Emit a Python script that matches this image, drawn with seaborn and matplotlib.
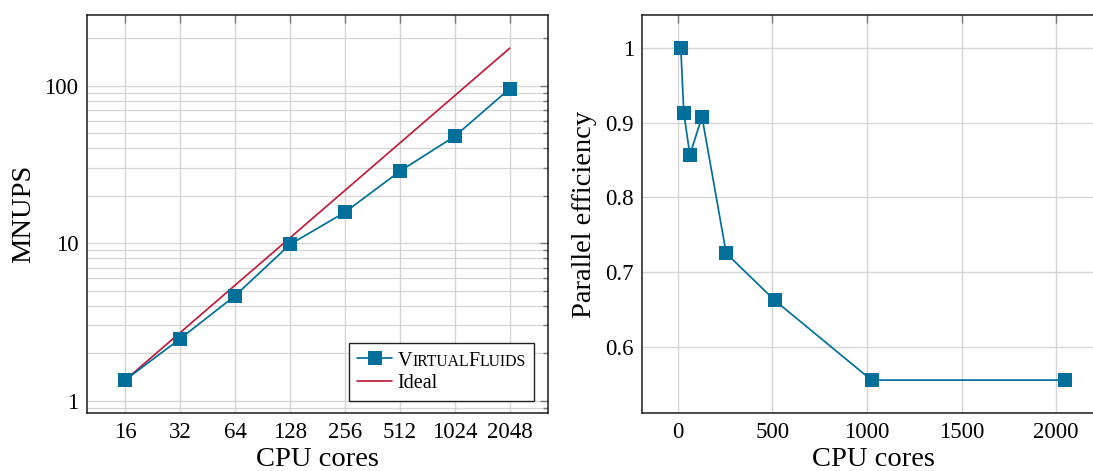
import numpy as np
import pandas as pd
import matplotlib
matplotlib.use("Agg")
import matplotlib.pyplot as plt
import seaborn as sns
from matplotlib.offsetbox import TextArea, HPacker
from matplotlib.ticker import LogLocator, NullFormatter, NullLocator

# Strong scaling measurements
cores = [16, 32, 64, 128, 256, 512, 1024, 2048]
mnups = [1.35, 2.47, 4.63, 9.81, 15.7, 28.6, 47.7, 95.7]
ideal = [1.35, 2.7, 5.4, 10.8, 21.6, 43.2, 86.4, 172.8]
efficiency = [1.0, 0.913, 0.857, 0.908, 0.725, 0.662, 0.555, 0.555]

# Axis ticks and labels
core_ticks = [16, 32, 64, 128, 256, 512, 1024, 2048]
core_tick_labels = ["16", "32", "64", "128", "256", "512", "1024", "2048"]
mnups_ticks = [1, 10, 100]
mnups_tick_labels = ["1", "10", "100"]
linear_core_ticks = [0, 500, 1000, 1500, 2000]
linear_core_tick_labels = ["0", "500", "1000", "1500", "2000"]
eff_ticks = [0.6, 0.7, 0.8, 0.9, 1.0]
eff_tick_labels = ["0.6", "0.7", "0.8", "0.9", "1"]

BLUE = "#00709B"
RED = "#BE1E3C"
GRID = "#d5d5d5"
TICK = "#7a7a7a"

sns.set_theme(style="white")
plt.rcParams["font.family"] = ["Liberation Serif", "DejaVu Serif"]
plt.rcParams["text.color"] = "black"
plt.rcParams["axes.labelcolor"] = "black"
plt.rcParams["xtick.color"] = "black"
plt.rcParams["ytick.color"] = "black"

df = pd.DataFrame({"cores": cores, "mnups": mnups, "ideal": ideal,
                   "efficiency": efficiency})

fig = plt.figure(figsize=(10.93, 4.71), dpi=100)
ax1 = fig.add_axes([0.0793, 0.1225, 0.4223, 0.8457])
ax2 = fig.add_axes([0.5877, 0.1225, 0.4221, 0.8457])

LABEL_FS = 20.5
TICK_FS = 16.5
LEGEND_FS = 14.5


def enlarge(lo, hi, frac=0.1):
    d = (hi - lo) * frac
    return lo - d, hi + d


def style_axes(ax):
    ax.set_axisbelow(True)
    for sp in ax.spines.values():
        sp.set_color("#1a1a1a")
        sp.set_linewidth(1.1)
        sp.set_visible(True)
    ax.tick_params(which="both", direction="in", top=True, right=True,
                   color=TICK, width=1.0, labelsize=TICK_FS, pad=6)
    ax.tick_params(which="major", length=5.5)
    ax.tick_params(which="minor", length=3.5)


# ---- left panel: throughput, log-log ----
sns.lineplot(data=df, x="cores", y="ideal", ax=ax1, color=RED, lw=1.25,
             label="Ideal", zorder=3)
sns.lineplot(data=df, x="cores", y="mnups", ax=ax1, color=BLUE, lw=1.25,
             marker="s", markersize=9.6, markeredgewidth=0,
             label="VirtualFluids", zorder=4)
ax1.set_xscale("log", base=2)
ax1.set_yscale("log", base=10)
xl = enlarge(np.log2(min(cores)), np.log2(max(cores)))
ax1.set_xlim(2 ** xl[0], 2 ** xl[1])
yl = enlarge(np.log10(min(mnups + ideal)), np.log10(max(mnups + ideal)))
ax1.set_ylim(10 ** yl[0], 10 ** yl[1])
ax1.set_xticks(core_ticks, core_tick_labels)
ax1.xaxis.set_minor_locator(NullLocator())
ax1.set_yticks(mnups_ticks, mnups_tick_labels)
ax1.yaxis.set_minor_locator(LogLocator(base=10, subs=np.arange(2, 10)))
ax1.yaxis.set_minor_formatter(NullFormatter())
ax1.grid(True, which="major", color=GRID, lw=1.0)
ax1.grid(True, which="minor", axis="y", color=GRID, lw=0.9)
style_axes(ax1)
ax1.set_xlabel("CPU cores", fontsize=LABEL_FS, labelpad=3)
ax1.set_ylabel("MNUPS", fontsize=LABEL_FS, labelpad=6)

handles, labels = ax1.get_legend_handles_labels()
leg = ax1.legend([handles[1], handles[0]], ["VirtualFluids", "Ideal"],
                 loc="lower right", bbox_to_anchor=(0.9697, 0.0316),
                 borderaxespad=0, fontsize=LEGEND_FS, frameon=True,
                 fancybox=False, edgecolor="#222222", framealpha=1,
                 handlelength=1.7, handletextpad=0.3, borderpad=0.4,
                 labelspacing=0.15)
leg.get_frame().set_linewidth(1.0)

# Typeset the software name in small capitals
column = leg._legend_handle_box.get_children()[0]
row = column.get_children()[0]
parts = [("V", LEGEND_FS), ("IRTUAL", 11.3), ("F", LEGEND_FS), ("LUIDS", 11.3)]
smallcaps = HPacker(pad=0, sep=0, align="baseline", children=[
    TextArea(s, textprops=dict(fontsize=fs, color="black",
                               family=["Liberation Serif", "DejaVu Serif"]))
    for s, fs in parts])
smallcaps.set_figure(fig)
row.get_children()[1] = smallcaps

# ---- right panel: parallel efficiency ----
sns.lineplot(data=df, x="cores", y="efficiency", ax=ax2, color=BLUE, lw=1.25,
             marker="s", markersize=9.6, markeredgewidth=0, legend=False,
             zorder=4)
ax2.set_xlim(*enlarge(min(cores), max(cores)))
ax2.set_ylim(*enlarge(min(efficiency), max(efficiency)))
ax2.set_xticks(linear_core_ticks, linear_core_tick_labels)
ax2.set_yticks(eff_ticks, eff_tick_labels)
ax2.grid(True, which="major", color=GRID, lw=1.0)
style_axes(ax2)
ax2.set_xlabel("CPU cores", fontsize=LABEL_FS, labelpad=3)
ax2.set_ylabel("Parallel efficiency", fontsize=LABEL_FS, labelpad=6)

fig.savefig("out.png", dpi=100)
